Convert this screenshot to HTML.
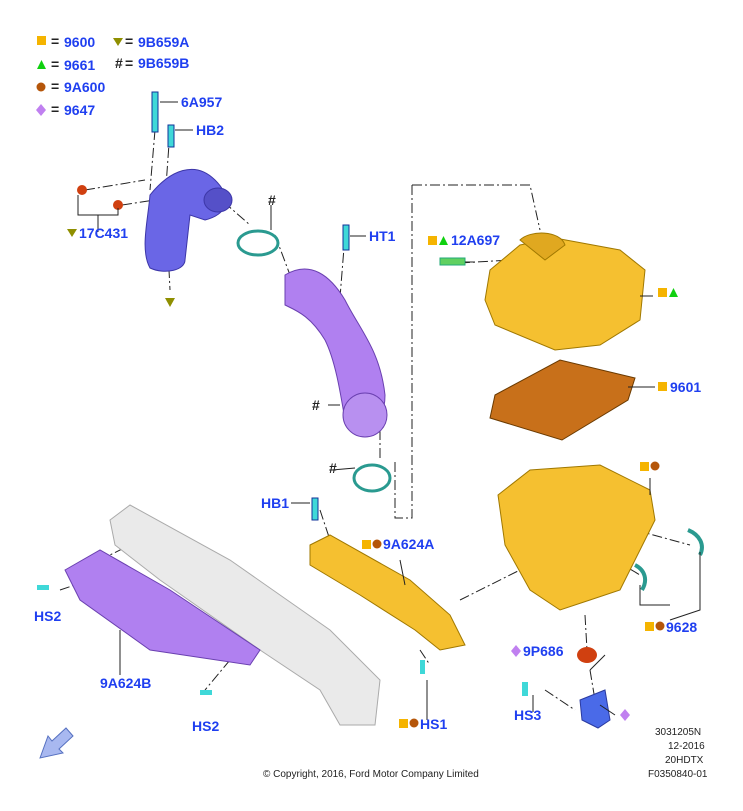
<!DOCTYPE html>
<html><head><meta charset="utf-8"><style>
html,body{margin:0;padding:0;background:#fff}
svg{display:block}
.l{font-family:"Liberation Sans",sans-serif;font-weight:bold;font-size:14px;fill:#1f3ff0}
.k{font-family:"Liberation Sans",sans-serif;font-weight:bold;font-size:14px;fill:#222}
.s{font-family:"Liberation Sans",sans-serif;font-size:10px;fill:#222}
.ln{stroke:#222;stroke-width:1;fill:none}
.dd{stroke:#222;stroke-width:1;fill:none;stroke-dasharray:10 3 2 3}
</style></head><body>
<svg width="743" height="811" viewBox="0 0 743 811">
<rect x="37" y="36" width="9" height="9" fill="#f5b400"/><text x="51" y="46" class="k">=</text><text x="64" y="47" class="l">9600</text>
<polygon points="113,38 123,38 118,46" fill="#8f8f00"/><text x="125" y="46" class="k">=</text><text x="138" y="47" class="l">9B659A</text>
<polygon points="37,69 46,69 41.5,60" fill="#10d010"/><text x="51" y="69" class="k">=</text><text x="64" y="70" class="l">9661</text>
<text x="115" y="68" class="k">#</text><text x="125" y="68" class="k">=</text><text x="138" y="68" class="l">9B659B</text>
<circle cx="41" cy="87" r="4.5" fill="#b5560a"/><text x="51" y="91" class="k">=</text><text x="64" y="92" class="l">9A600</text>
<polygon points="41,104 46,110 41,116 36,110" fill="#c080f0"/><text x="51" y="114" class="k">=</text><text x="64" y="115" class="l">9647</text>

<path class="dd" d="M155,130 L150,190 M170,130 L165,200 M210,190 L250,225 M85,190 L145,180 M122,205 L155,200 M168,250 L170,290 M275,235 L290,275 M345,235 L335,360 M350,400 L365,420 M380,430 L380,460 M412,185 L530,185 L540,230 M412,185 L412,518 L395,518 L395,460 M460,263 L510,260 M320,510 L330,540 M140,540 L110,555 M60,590 L75,585 M230,660 L205,690 M420,650 L430,665 M460,600 L520,570 M585,615 L587,650 M590,670 L595,700 M545,690 L575,710 M615,560 L640,575 M635,530 L690,545"/>

<path d="M150,195 C170,170 195,160 215,180 C235,200 225,215 205,220 L190,215 L185,260 C185,270 165,275 150,268 C140,250 148,220 150,195Z" fill="#6a66e6" stroke="#3c36a8"/>
<ellipse cx="218" cy="200" rx="14" ry="12" fill="#5550c8" stroke="#3c36a8"/>
<rect x="152" y="92" width="6" height="40" fill="#3fd8d8" stroke="#139"/>
<rect x="168" y="125" width="6" height="22" fill="#3fd8d8" stroke="#139"/>
<circle cx="82" cy="190" r="5" fill="#d04010"/><circle cx="118" cy="205" r="5" fill="#d04010"/>
<polygon points="165,298 175,298 170,307" fill="#8f8f00"/>
<ellipse cx="258" cy="243" rx="20" ry="12" fill="none" stroke="#2a9a90" stroke-width="3"/>
<path d="M285,275 C310,260 330,275 345,300 C360,330 380,350 385,395 C385,430 360,440 345,420 C340,390 335,360 325,340 C310,315 295,310 285,305Z" fill="#b080f0" stroke="#6a40b0"/>
<ellipse cx="365" cy="415" rx="22" ry="22" fill="#b890f0" stroke="#6a40b0"/>
<rect x="343" y="225" width="6" height="25" fill="#3fd8d8" stroke="#139"/>
<ellipse cx="372" cy="478" rx="18" ry="13" fill="none" stroke="#2a9a90" stroke-width="3"/>

<path d="M490,270 L520,245 L555,238 L620,250 L645,270 L640,320 L600,345 L555,350 L495,325 L485,300Z" fill="#f5c030" stroke="#a07800"/>
<path d="M520,240 C530,230 560,230 565,245 L545,260Z" fill="#e0a820" stroke="#a07800"/>
<rect x="440" y="258" width="25" height="7" fill="#60d060" stroke="#2a7"/>
<path d="M495,395 L560,360 L635,378 L628,400 L562,440 L490,418Z" fill="#c8701a" stroke="#6a3a00"/>
<path d="M498,495 L530,470 L600,465 L650,490 L655,520 L620,590 L590,600 L560,610 L530,590 L505,545Z" fill="#f5c030" stroke="#a07800"/>
<ellipse cx="587" cy="655" rx="10" ry="8" fill="#d04010"/>
<path d="M580,700 L605,690 L610,720 L598,728 L582,720Z" fill="#4a6ae8" stroke="#2a3aa0"/>
<path d="M688,530 C700,535 705,545 700,555" stroke="#2a9a90" stroke-width="4" fill="none"/>
<path d="M635,565 C645,570 648,580 642,590" stroke="#2a9a90" stroke-width="4" fill="none"/>

<path d="M110,520 L130,505 L230,560 L330,630 L380,680 L375,725 L340,725 L320,690 L260,650 L160,580 L115,545Z" fill="#eaeaea" stroke="#aaa"/>
<path d="M310,545 L330,535 L410,580 L450,615 L465,645 L440,650 L415,630 L360,595 L310,565Z" fill="#f5c030" stroke="#a07800"/>
<rect x="312" y="498" width="6" height="22" fill="#3fd8d8" stroke="#139"/>
<path d="M65,570 L100,550 L170,590 L260,650 L250,665 L150,650 L80,600Z" fill="#b080f0" stroke="#6a40b0"/>
<rect x="37" y="585" width="12" height="5" fill="#3fd8d8"/>
<rect x="200" y="690" width="12" height="5" fill="#3fd8d8"/>
<rect x="420" y="660" width="5" height="14" fill="#3fd8d8"/>
<rect x="522" y="682" width="6" height="14" fill="#3fd8d8"/>

<path class="ln" d="M160,102 L178,102 M175,130 L193,130 M78,195 L78,215 L118,215 L118,208 M98,215 L98,232 M350,236 L366,236 M465,262 L475,262 M640,296 L653,296 M628,387 L655,387 M650,478 L650,495 M700,552 L700,610 L670,620 M640,585 L640,605 L670,605 M400,560 L405,585 M291,503 L310,503 M120,630 L120,675 M427,680 L427,720 M590,670 L605,655 M600,705 L615,715 M332,470 L355,468 M328,405 L340,405 M271,205 L271,230 M533,695 L533,712"/>

<text x="181" y="107" class="l">6A957</text>
<text x="196" y="135" class="l">HB2</text>
<polygon points="67,229 77,229 72,237" fill="#8f8f00"/><text x="79" y="238" class="l">17C431</text>
<text x="268" y="205" class="k">#</text>
<text x="369" y="241" class="l">HT1</text>
<rect x="428" y="236" width="9" height="9" fill="#f5b400"/><polygon points="439,245 448,245 443.5,236" fill="#10d010"/><text x="451" y="245" class="l">12A697</text>
<rect x="658" y="288" width="9" height="9" fill="#f5b400"/><polygon points="669,297 678,297 673.5,288" fill="#10d010"/>
<rect x="658" y="382" width="9" height="9" fill="#f5b400"/><text x="670" y="392" class="l">9601</text>
<text x="312" y="410" class="k">#</text>
<text x="329" y="473" class="k">#</text>
<rect x="640" y="462" width="9" height="9" fill="#f5b400"/><circle cx="655" cy="466" r="4.5" fill="#b5560a"/>
<text x="261" y="508" class="l">HB1</text>
<rect x="362" y="540" width="9" height="9" fill="#f5b400"/><circle cx="377" cy="544" r="4.5" fill="#b5560a"/><text x="383" y="549" class="l">9A624A</text>
<text x="34" y="621" class="l">HS2</text>
<rect x="645" y="622" width="9" height="9" fill="#f5b400"/><circle cx="660" cy="626" r="4.5" fill="#b5560a"/><text x="666" y="632" class="l">9628</text>
<polygon points="516,645 521,651 516,657 511,651" fill="#c080f0"/><text x="523" y="656" class="l">9P686</text>
<text x="100" y="688" class="l">9A624B</text>
<text x="514" y="720" class="l">HS3</text>
<polygon points="625,709 630,715 625,721 620,715" fill="#c080f0"/>
<text x="192" y="731" class="l">HS2</text>
<rect x="399" y="719" width="9" height="9" fill="#f5b400"/><circle cx="414" cy="723" r="4.5" fill="#b5560a"/><text x="420" y="729" class="l">HS1</text>
<path d="M40,758 L48,736 L52,741 L66,728 L73,736 L59,749 L63,753Z" fill="#a8b8f0" stroke="#5570c0"/>
<text x="655" y="735" class="s">3031205N</text>
<text x="668" y="749" class="s">12-2016</text>
<text x="665" y="763" class="s">20HDTX</text>
<text x="263" y="777" class="s">© Copyright, 2016, Ford Motor Company Limited</text>
<text x="648" y="777" class="s">F0350840-01</text>
</svg>
</body></html>
